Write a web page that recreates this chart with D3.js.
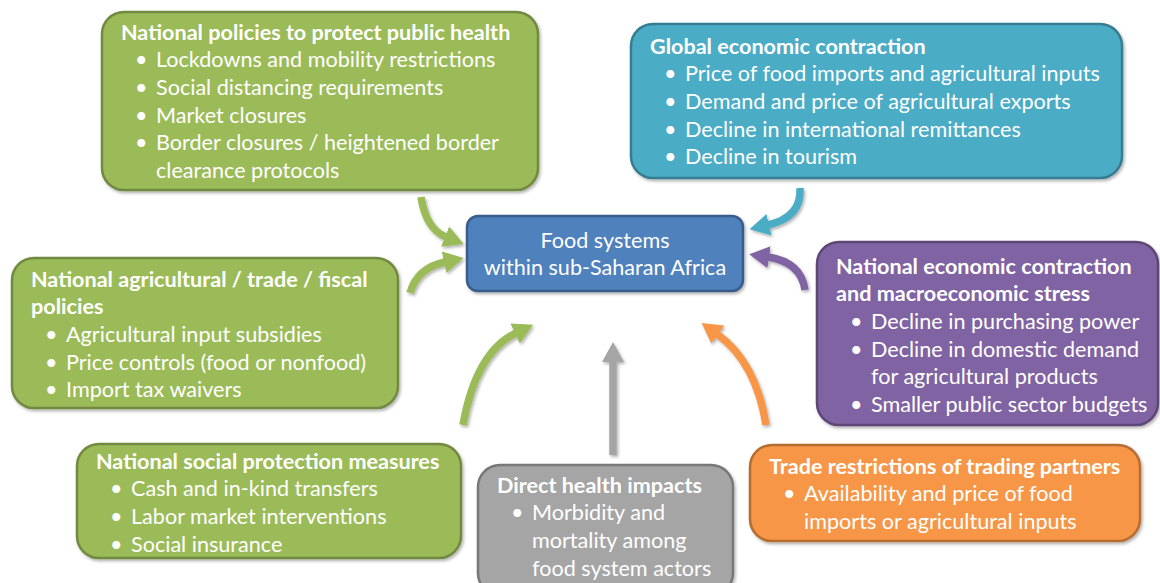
<!DOCTYPE html>
<html>
<head>
<meta charset="utf-8">
<script src="https://cdn.jsdelivr.net/npm/d3@7"></script>
<style>
  html, body { margin: 0; padding: 0; background: #ffffff; }
  svg text { font-family: Lato, 'Open Sans', sans-serif; fill: #ffffff; }
</style>
</head>
<body>
<div id="chart"></div>
<script>
// box texts: title lines, then bullets (each bullet may wrap to several lines)
const healthTitle = ['National policies to protect public health']
const healthItems = [
  ['Lockdowns and mobility restrictions'],
  ['Social distancing requirements'],
  ['Market closures'],
  ['Border closures / heightened border', 'clearance protocols']
]
const globalTitle = ['Global economic contraction']
const globalItems = [
  ['Price of food imports and agricultural inputs'],
  ['Demand and price of agricultural exports'],
  ['Decline in international remittances'],
  ['Decline in tourism']
]
const foodLines = ['Food systems', 'within sub-Saharan Africa']
const agriTitle = ['National agricultural / trade / fiscal', 'policies']
const agriItems = [
  ['Agricultural input subsidies'],
  ['Price controls (food or nonfood)'],
  ['Import tax waivers']
]
const macroTitle = ['National economic contraction', 'and macroeconomic stress']
const macroItems = [
  ['Decline in purchasing power'],
  ['Decline in domestic demand', 'for agricultural products'],
  ['Smaller public sector budgets']
]
const socialTitle = ['National social protection measures']
const socialItems = [
  ['Cash and in-kind transfers'],
  ['Labor market interventions'],
  ['Social insurance']
]
const directTitle = ['Direct health impacts']
const directItems = [
  ['Morbidity and', 'mortality among', 'food system actors']
]
const tradeTitle = ['Trade restrictions of trading partners']
const tradeItems = [
  ['Availability and price of food', 'imports or agricultural inputs']
]

const palette = {
  green: { fill: '#9bbb59', stroke: '#71893f' },
  blue: { fill: '#4bacc6', stroke: '#357d91' },
  navy: { fill: '#4f81bd', stroke: '#385d8a' },
  purple: { fill: '#8064a2', stroke: '#5c4776' },
  orange: { fill: '#f79646', stroke: '#b66d31' },
  gray: { fill: '#a5a5a5', stroke: '#787878' }
}

// layout (position of each box, first line centre)
const boxes = [
  { title: healthTitle, items: healthItems, c: 'green', x: 102, y: 12, w: 436, h: 178, ty: 32 },
  { title: globalTitle, items: globalItems, c: 'blue', x: 631, y: 24, w: 491, h: 154, ty: 46 },
  { title: agriTitle, items: agriItems, c: 'green', x: 12, y: 258, w: 386, h: 150, ty: 279 },
  { title: macroTitle, items: macroItems, c: 'purple', x: 817, y: 242, w: 341, h: 183, ty: 266 },
  { title: socialTitle, items: socialItems, c: 'green', x: 77, y: 444, w: 384, h: 114, ty: 461 },
  { title: directTitle, items: directItems, c: 'gray', x: 478, y: 465, w: 255, h: 130, ty: 485 },
  { title: tradeTitle, items: tradeItems, c: 'orange', x: 750, y: 445, w: 390, h: 96, ty: 466 }
]
const centre = { lines: foodLines, c: 'navy', x: 467, y: 216, w: 276, h: 75, ty: 240 }

// arrows: start, control, end of shaft (head added beyond end)
const arrows = [
  { c: 'green', p: [[421, 197], [426, 229], [446, 237]] },
  { c: 'green', p: [[410, 293], [417, 268], [445, 262]] },
  { c: 'green', p: [[463, 425], [476, 352], [516, 333]] },
  { c: 'gray', p: [[613, 455], [613, 410], [613, 361]] },
  { c: 'orange', p: [[766, 425], [756, 362], [717, 334]] },
  { c: 'purple', p: [[805, 290], [801, 262], [768, 257]] },
  { c: 'blue', p: [[800, 188], [802, 217], [768, 225]] }
]

const width = 1160
const height = 583
const lineH = 27.7
const fontSize = 21.6

const svg = d3
  .select('#chart')
  .append('svg')
  .attr('width', width)
  .attr('height', height)

const defs = svg.append('defs')
const shadow = defs
  .append('filter')
  .attr('id', 'shadow')
  .attr('x', '-10%')
  .attr('y', '-10%')
  .attr('width', '125%')
  .attr('height', '130%')
shadow
  .append('feDropShadow')
  .attr('dx', 1.5)
  .attr('dy', 2)
  .attr('stdDeviation', 1.8)
  .attr('flood-color', '#000')
  .attr('flood-opacity', 0.3)

Object.keys(palette).forEach((k) => {
  defs
    .append('marker')
    .attr('id', `head-${k}`)
    .attr('viewBox', '0 -10 20 20')
    .attr('refX', 1)
    .attr('refY', 0)
    .attr('markerUnits', 'userSpaceOnUse')
    .attr('markerWidth', 20)
    .attr('markerHeight', 22)
    .attr('orient', 'auto')
    .append('path')
    .attr('d', 'M0,-11L20,0L0,11Z')
    .attr('fill', palette[k].fill)
})

// arrows
const arrowG = svg.append('g').attr('filter', 'url(#shadow)')
arrowG
  .selectAll('path')
  .data(arrows)
  .join('path')
  .attr('d', (d) => {
    const p = d3.path()
    p.moveTo(d.p[0][0], d.p[0][1])
    p.quadraticCurveTo(d.p[1][0], d.p[1][1], d.p[2][0], d.p[2][1])
    return p.toString()
  })
  .attr('fill', 'none')
  .attr('stroke', (d) => palette[d.c].fill)
  .attr('stroke-width', 7.5)
  .attr('marker-end', (d) => `url(#head-${d.c})`)

// boxes
const boxG = svg
  .selectAll('.box')
  .data(boxes)
  .join('g')
  .attr('class', 'box')

boxG
  .append('rect')
  .attr('x', (d) => d.x)
  .attr('y', (d) => d.y)
  .attr('width', (d) => d.w)
  .attr('height', (d) => d.h)
  .attr('rx', 22)
  .attr('fill', (d) => palette[d.c].fill)
  .attr('stroke', (d) => palette[d.c].stroke)
  .attr('stroke-width', 2.5)
  .attr('filter', 'url(#shadow)')

boxG.each(function (d) {
  const g = d3.select(this)
  const rows = []
  d.title.forEach((t) => rows.push({ kind: 'title', text: t }))
  d.items.forEach((item) =>
    item.forEach((t, i) => rows.push({ kind: 'item', text: t, first: i === 0 }))
  )
  rows.forEach((r, i) => {
    const cy = d.ty + i * lineH
    if (r.kind === 'title') {
      g.append('text')
        .attr('x', d.x + 19)
        .attr('y', cy)
        .attr('dy', '0.35em')
        .style('font-size', `${fontSize}px`)
        .style('font-weight', 700)
        .text(r.text)
    } else {
      if (r.first) {
        g.append('text')
          .attr('x', d.x + 33)
          .attr('y', cy)
          .attr('dy', '0.35em')
          .style('font-size', `${fontSize}px`)
          .text('•')
      }
      g.append('text')
        .attr('x', d.x + 54)
        .attr('y', cy)
        .attr('dy', '0.35em')
        .style('font-size', `${fontSize}px`)
        .text(r.text)
    }
  })
})

// central box
const cG = svg.append('g')
cG.append('rect')
  .attr('x', centre.x)
  .attr('y', centre.y)
  .attr('width', centre.w)
  .attr('height', centre.h)
  .attr('rx', 11)
  .attr('fill', palette[centre.c].fill)
  .attr('stroke', palette[centre.c].stroke)
  .attr('stroke-width', 2.5)
  .attr('filter', 'url(#shadow)')
cG.selectAll('text')
  .data(centre.lines)
  .join('text')
  .attr('x', centre.x + centre.w / 2)
  .attr('y', (d, i) => centre.ty + i * lineH)
  .attr('dy', '0.35em')
  .attr('text-anchor', 'middle')
  .style('font-size', `${fontSize}px`)
  .text((d) => d)
</script>
</body>
</html>
